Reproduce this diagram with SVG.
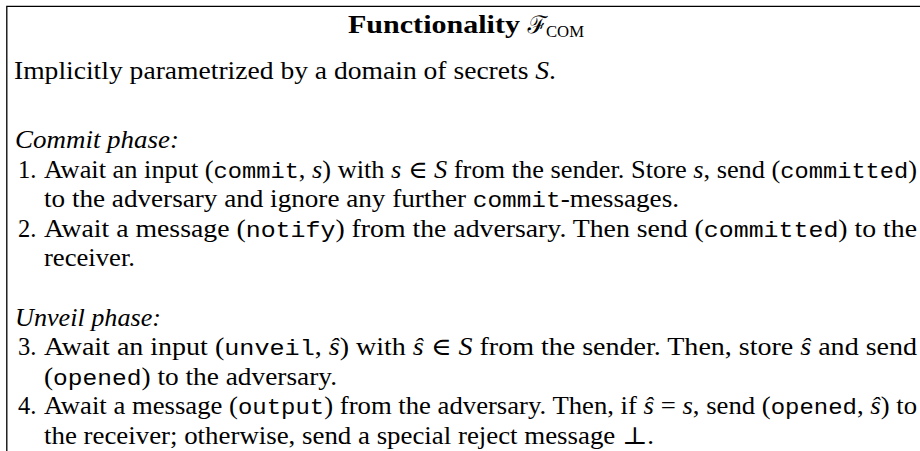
<svg xmlns="http://www.w3.org/2000/svg" width="920" height="451" viewBox="0 0 920 451">
<style>
text{font-family:"Liberation Serif","DejaVu Serif",serif;font-size:24.5px;fill:#000}
.tt{font-family:"Liberation Mono","DejaVu Sans Mono",monospace;font-size:22px}
.it{font-style:italic}
.b{font-weight:bold}
.cal{font-family:"DejaVu Serif","Noto Sans",serif;font-style:italic;font-size:24px}
.sub{font-size:17px}
</style>
<rect width="920" height="451" fill="#fff"/>
<g id="frame"><path d="M6.8 451V6.4H920" fill="none" stroke="#000" stroke-width="1.3"/></g>
<g id="title">
<text class="b" x="348" y="33" textLength="172" lengthAdjust="spacingAndGlyphs">Functionality</text>
<text class="cal" x="527" y="33">ℱ</text>
<text class="sub" x="546" y="37" textLength="38" lengthAdjust="spacingAndGlyphs">COM</text>
</g>
<g id="intro">
<text x="14" y="79" textLength="542" lengthAdjust="spacingAndGlyphs">Implicitly parametrized by a domain of secrets <tspan class="it">S</tspan>.</text>
</g>
<g id="commit-phase">
<text class="it" x="15" y="148" textLength="164" lengthAdjust="spacingAndGlyphs">Commit phase:</text>
<text x="18" y="177.5">1.</text>
<text x="44" y="177.5" textLength="873" lengthAdjust="spacingAndGlyphs">Await an input (<tspan class="tt">commit</tspan>, <tspan class="it">s</tspan>) with <tspan class="it">s</tspan> ∈ <tspan class="it">S</tspan> from the sender. Store <tspan class="it">s</tspan>, send (<tspan class="tt">committed</tspan>)</text>
<text x="44" y="207" textLength="635" lengthAdjust="spacingAndGlyphs">to the adversary and ignore any further <tspan class="tt">commit</tspan>-messages.</text>
<text x="18" y="236.5">2.</text>
<text x="44" y="236.5" textLength="873" lengthAdjust="spacingAndGlyphs">Await a message (<tspan class="tt">notify</tspan>) from the adversary. Then send (<tspan class="tt">committed</tspan>) to the</text>
<text x="44" y="266" textLength="91" lengthAdjust="spacingAndGlyphs">receiver.</text>
</g>
<g id="unveil-phase">
<text class="it" x="15" y="325.5" textLength="146" lengthAdjust="spacingAndGlyphs">Unveil phase:</text>
<text x="18" y="355">3.</text>
<text x="44" y="355" textLength="873" lengthAdjust="spacingAndGlyphs">Await an input (<tspan class="tt">unveil</tspan>, <tspan class="it">ŝ</tspan>) with <tspan class="it">ŝ</tspan> ∈ <tspan class="it">S</tspan> from the sender. Then, store <tspan class="it">ŝ</tspan> and send</text>
<text x="44" y="384.5" textLength="293" lengthAdjust="spacingAndGlyphs">(<tspan class="tt">opened</tspan>) to the adversary.</text>
<text x="18" y="414">4.</text>
<text x="44" y="414" textLength="873" lengthAdjust="spacingAndGlyphs">Await a message (<tspan class="tt">output</tspan>) from the adversary. Then, if <tspan class="it">ŝ</tspan> = <tspan class="it">s</tspan>, send (<tspan class="tt">opened</tspan>, <tspan class="it">ŝ</tspan>) to</text>
<text x="44" y="443.5" textLength="610" lengthAdjust="spacingAndGlyphs">the receiver; otherwise, send a special reject message ⊥.</text>
</g>
</svg>
